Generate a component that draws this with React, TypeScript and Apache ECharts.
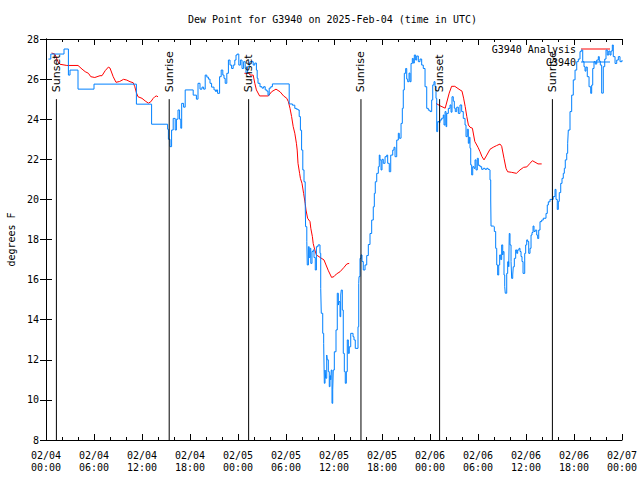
import React, { useEffect, useRef } from 'react';
import * as echarts from 'echarts';

const titleText = 'Dew Point for G3940 on 2025-Feb-04 (time in UTC)';
const yAxisName = 'degrees F';
const xTickLabels = [
  '02/04\n00:00', '02/04\n06:00', '02/04\n12:00', '02/04\n18:00',
  '02/05\n00:00', '02/05\n06:00', '02/05\n12:00', '02/05\n18:00',
  '02/06\n00:00', '02/06\n06:00', '02/06\n12:00', '02/06\n18:00',
  '02/07\n00:00',
];
const seriesNames = ['G3940 Analysis', 'G3940'];

// hours since 02/04 00:00 UTC
const eventTimes = [1.3, 15.4, 25.33, 39.37, 49.2, 63.3];
const eventLabels = ['Sunset', 'Sunrise', 'Sunset', 'Sunrise', 'Sunset', 'Sunrise'];
const eventTop = 25;

const analysisDay1 = [
  [0.7, 27.3], [1.1, 27.25], [1.5, 26.87], [1.75, 26.74], [2.6, 26.68], [4.0, 26.68], [4.5, 26.5],
  [4.9, 26.37], [5.3, 26.29], [5.6, 26.12], [6.1, 26.08], [6.75, 26.17], [7.0, 26.17], [7.4, 26.42],
  [7.8, 26.6], [8.0, 26.55], [8.4, 26.12], [8.75, 25.84], [9.2, 25.88], [9.7, 25.99], [10.1, 25.95],
  [10.5, 25.87], [10.9, 25.82], [11.1, 25.62], [11.3, 25.32], [11.5, 25.12], [12.0, 25.04], [12.4, 24.91],
  [12.8, 24.8], [13.1, 24.87], [13.4, 25.04], [13.6, 25.12], [13.8, 25.16], [14.0, 25.12],
];
const analysisDay2 = [
  [24.8, 26.29], [25.4, 26.29], [25.5, 26.2], [25.9, 26.2], [26.1, 25.79], [26.3, 25.46], [26.7, 25.16],
  [27.8, 25.16], [28.2, 25.37], [28.75, 25.5], [29.25, 25.37], [29.7, 25.16], [30.1, 25.04], [30.3, 24.87],
  [30.5, 24.54], [30.7, 24.13], [30.9, 23.63], [31.1, 23.3], [31.3, 22.8], [31.4, 22.46], [31.5, 21.8],
  [31.7, 21.3], [31.8, 21.05], [32.0, 20.8], [32.2, 20.3], [32.4, 19.8], [32.5, 19.47], [32.7, 19.06],
  [33.0, 18.89], [33.1, 18.56], [33.3, 18.14], [33.4, 17.8], [33.6, 17.48], [33.8, 17.23], [34.25, 17.11],
  [34.75, 16.98], [35.0, 16.73], [35.3, 16.44], [35.7, 16.11], [36.0, 16.15], [36.3, 16.28], [36.75, 16.39],
  [37.25, 16.61], [37.6, 16.78], [37.9, 16.81],
];
const analysisDay3 = [
  [48.75, 24.79], [49.25, 24.67], [49.9, 24.55], [50.4, 25.3], [50.7, 25.64], [51.1, 25.64], [51.75, 25.46],
  [52.0, 25.4], [52.2, 25.05], [52.4, 24.63], [52.6, 24.13], [52.8, 23.71], [53.0, 23.6], [53.3, 23.55],
  [53.6, 22.89], [54.0, 22.6], [54.25, 22.38], [54.5, 22.13], [54.75, 21.97], [55.1, 22.21], [55.5, 22.5],
  [55.9, 22.6], [56.3, 22.68], [56.75, 22.76], [56.96, 22.65], [57.25, 22.05], [57.5, 21.55], [57.7, 21.38],
  [58.2, 21.35], [58.8, 21.3], [59.25, 21.47], [59.7, 21.6], [60.1, 21.62], [60.5, 21.8], [60.8, 21.93],
  [61.25, 21.83], [61.5, 21.77], [61.96, 21.77],
];

const obsPartA = [
  [0.3, 27.0], [0.6, 27.25], [2.25, 27.5], [2.8, 26.2], [3.0, 26.45], [4.0, 25.5], [6.0, 25.75],
  [11.3, 24.75], [13.2, 23.75], [15.2, 23.5], [15.3, 23.0], [15.5, 22.63], [15.7, 23.46], [15.9, 24.04],
  [16.15, 23.46], [16.3, 24.0], [16.5, 24.46], [16.7, 24.0], [16.85, 23.55], [16.96, 24.79], [17.2, 24.6],
  [17.4, 25.46], [18.4, 25.2], [18.8, 25.0], [19.0, 25.79], [19.25, 25.5], [19.5, 25.6], [19.7, 25.5],
  [19.9, 26.2], [20.1, 26.1], [20.3, 26.0], [20.5, 25.79], [20.7, 25.6], [21.0, 25.46], [21.2, 25.38],
  [21.3, 25.46], [21.45, 25.29], [21.7, 26.12], [21.9, 26.45], [22.1, 26.2], [22.25, 26.04], [22.4, 25.79],
  [22.6, 26.29], [22.8, 26.95], [23.0, 26.7], [23.2, 26.53], [23.4, 26.7], [23.6, 26.95], [23.75, 27.2],
  [23.9, 27.25], [24.1, 26.7], [24.3, 26.95], [24.5, 26.53], [24.7, 26.87], [24.9, 26.53], [25.0, 26.3],
  [25.2, 26.62], [25.4, 26.8], [25.5, 26.87], [25.9, 26.7], [26.1, 26.8], [26.3, 26.45], [26.4, 26.04],
  [26.5, 25.79], [26.75, 25.62], [27.0, 25.55], [27.2, 25.62], [27.4, 25.46], [27.6, 25.4], [27.75, 25.2],
  [27.9, 25.55], [28.1, 25.62], [28.3, 25.76], [30.4, 24.76], [30.8, 24.7], [31.1, 24.54], [31.3, 24.5],
  [31.5, 24.46], [31.65, 24.13],
];
const obsPartB = [
  [31.8, 23.45], [31.95, 22.46], [32.1, 21.47], [32.25, 20.88], [32.4, 19.88], [32.45, 18.64], [32.6, 17.89],
  [32.66, 16.73], [32.8, 17.64], [32.9, 17.1], [33.0, 17.56], [33.1, 16.81], [33.25, 17.4], [33.4, 17.48],
  [33.5, 17.1], [33.66, 16.48], [33.8, 17.64], [34.0, 17.73], [34.25, 17.31], [34.34, 15.56], [34.41, 14.32],
  [34.59, 13.32], [34.71, 12.82], [34.79, 10.83], [34.88, 11.49], [34.96, 11.08], [35.09, 12.24], [35.16, 12.0],
  [35.29, 11.41], [35.41, 10.66], [35.5, 11.2], [35.59, 11.0], [35.66, 11.49], [35.75, 9.83], [35.84, 10.5],
  [35.91, 11.49], [36.04, 12.4], [36.25, 13.49], [36.41, 15.32], [36.54, 14.73], [36.62, 14.9], [36.75, 14.15],
  [36.84, 15.23], [36.91, 15.48], [37.04, 14.48], [37.16, 12.32], [37.29, 11.41], [37.41, 10.83], [37.54, 11.41],
  [37.66, 12.99], [37.79, 12.32], [37.91, 12.65], [38.09, 13.32], [38.38, 13.15], [38.5, 12.99], [38.66, 12.57],
  [39.0, 13.65], [39.09, 15.81], [39.13, 16.15], [39.25, 17.06], [39.38, 17.23], [39.5, 16.9], [39.66, 16.48],
  [39.88, 16.73], [40.09, 17.2], [40.29, 17.75], [40.5, 18.3], [40.71, 18.97], [40.91, 19.63], [41.04, 20.3],
  [41.16, 20.88], [41.34, 21.3], [41.54, 21.63], [41.66, 22.21], [41.75, 21.97], [41.88, 21.47], [42.0, 22.0],
  [42.16, 21.8], [42.38, 22.13], [42.59, 22.21], [42.71, 21.8], [42.91, 21.38], [43.09, 22.21], [43.34, 22.46],
  [43.5, 22.6], [43.63, 22.13], [43.84, 22.96], [44.04, 23.3], [44.16, 23.05], [44.38, 23.79], [44.54, 24.54],
  [44.66, 25.46], [44.79, 26.29], [44.96, 26.53], [45.09, 26.0], [45.21, 25.87], [45.38, 26.3], [45.5, 25.87],
  [45.63, 26.78], [45.79, 27.03], [45.91, 26.8], [46.04, 27.2], [46.21, 26.95], [46.34, 27.15], [46.54, 26.87],
  [46.75, 27.0], [46.96, 26.7], [47.16, 26.53], [47.38, 25.62], [47.59, 24.54], [47.79, 24.45], [48.0, 24.38],
  [48.21, 24.96], [48.34, 25.71], [48.5, 25.87], [48.63, 25.62], [48.75, 25.04], [48.84, 23.38], [48.96, 23.88],
  [49.13, 23.83], [49.25, 23.96], [49.46, 24.05], [49.66, 24.21], [49.75, 23.71], [49.88, 24.38], [50.0, 23.63],
  [50.09, 24.29], [50.29, 24.54], [50.5, 24.71], [50.63, 24.35], [50.75, 25.12], [50.91, 24.9], [51.04, 24.55],
  [51.16, 24.38], [51.34, 24.6], [51.54, 24.29], [51.75, 24.71], [51.96, 24.38], [52.16, 24.04], [52.38, 23.71],
  [52.5, 23.13], [52.66, 23.5], [52.79, 22.8], [52.91, 23.1], [53.0, 22.55], [53.09, 21.72], [53.21, 21.22],
  [53.34, 21.63], [53.5, 21.55], [53.63, 21.97], [53.75, 21.47], [53.91, 22.05], [54.04, 21.7], [54.25, 21.63],
  [54.46, 21.5], [54.66, 21.55], [54.88, 21.5], [55.09, 21.55], [55.25, 21.5], [55.41, 21.47], [55.5, 20.97],
  [55.59, 19.97], [55.63, 18.67], [55.91, 18.64], [56.04, 18.4], [56.21, 17.56], [56.34, 16.73], [56.46, 16.23],
  [56.59, 16.73], [56.71, 17.23], [56.84, 17.0], [56.96, 17.73], [57.09, 17.23], [57.16, 17.4], [57.25, 16.23],
  [57.34, 15.65], [57.41, 15.32], [57.59, 16.31], [57.71, 16.89], [57.84, 16.64], [57.91, 18.3], [58.0, 17.73],
  [58.13, 16.9], [58.21, 16.06], [58.34, 16.23], [58.41, 16.64], [58.54, 17.06], [58.71, 17.48], [58.84, 17.31],
  [58.96, 17.48], [59.13, 17.56], [59.25, 17.4], [59.38, 17.15], [59.5, 16.9], [59.63, 16.31], [59.84, 17.31],
  [59.96, 17.73], [60.09, 17.98], [60.21, 17.9], [60.34, 17.31], [60.5, 17.56], [60.63, 18.22], [60.75, 18.35],
  [60.88, 18.67], [61.0, 18.4], [61.16, 18.47], [61.34, 18.22], [61.46, 18.05], [61.59, 18.47], [61.75, 18.89],
  [61.96, 18.97], [62.16, 19.06], [62.5, 19.3], [62.66, 19.72], [62.79, 19.88], [63.0, 20.0], [63.41, 20.14],
  [63.63, 20.5], [63.75, 20.0], [63.91, 19.5], [64.04, 19.9], [64.16, 20.34], [64.34, 20.8], [64.5, 21.05],
  [64.66, 21.3], [64.79, 21.55], [64.91, 21.97], [65.09, 22.3], [65.21, 22.8], [65.29, 23.46], [65.5, 24.38],
  [65.71, 25.2], [65.91, 25.96], [66.13, 26.45], [66.34, 26.87], [66.54, 27.0], [66.75, 27.37], [66.91, 27.45],
  [67.09, 26.87], [67.25, 26.62], [67.38, 26.4], [67.5, 26.6], [67.66, 26.12], [67.88, 25.62], [68.09, 25.29],
  [68.21, 25.7], [68.34, 26.53], [68.5, 26.87], [68.66, 26.75], [68.84, 26.95], [69.04, 27.12], [69.16, 26.9],
  [69.29, 26.7], [69.46, 25.3], [69.66, 26.62], [69.84, 27.0], [70.0, 27.45], [70.16, 27.2], [70.34, 27.4],
  [70.5, 27.2], [70.63, 27.4], [70.79, 27.7], [70.91, 27.12], [71.13, 26.78], [71.34, 26.95], [71.54, 27.12],
  [71.75, 26.87], [72.0, 26.95],
];

const mono = '"DejaVu Sans Mono", monospace';

export default function App() {
  const ref = useRef<HTMLDivElement>(null);
  useEffect(() => {
    if (!ref.current) return;
    const chart = echarts.init(ref.current, null, { renderer: 'svg' });
    const analysis = [
      ...analysisDay1, [14.5, null],
      ...analysisDay2, [43, null],
      ...analysisDay3,
    ];
    const obs = [...obsPartA, ...obsPartB];
    const xCommon = {
      type: 'value',
      min: 0,
      max: 72,
      interval: 6,
      splitLine: { show: false },
      axisLine: { show: true, lineStyle: { color: '#000', width: 1 } },
      axisTick: { show: true, inside: true, length: 6, lineStyle: { color: '#000' } },
      minorTick: { show: true, splitNumber: 3, length: 3, lineStyle: { color: '#000' } },
      minorSplitLine: { show: false },
    };
    const yCommon = {
      type: 'value',
      min: 8,
      max: 28,
      interval: 2,
      splitLine: { show: false },
      axisLine: { show: true, lineStyle: { color: '#000', width: 1 } },
      axisTick: { show: true, inside: true, length: 6, lineStyle: { color: '#000' } },
    };
    const legendBase = {
      orient: 'vertical',
      align: 'right',
      right: 30,
      padding: 0,
      itemWidth: 29,
      itemHeight: 1,
      icon: 'rect',
      selectedMode: false,
      textStyle: { fontFamily: mono, fontSize: 10, color: '#000', padding: [0, 0, 0, 0] },
    };
    chart.setOption({
      animation: false,
      backgroundColor: '#fff',
      title: {
        text: titleText,
        left: 188,
        top: 14,
        padding: 0,
        textStyle: { fontFamily: mono, fontSize: 10, fontWeight: 'normal', color: '#000' },
      },
      legend: [
        { ...legendBase, top: 44, data: [seriesNames[0]] },
        { ...legendBase, top: 57, data: [seriesNames[1]] },
      ],
      grid: {
        left: 46,
        right: 18,
        top: 39,
        bottom: 40,
        containLabel: false,
        outerBoundsMode: 'none',
      },
      xAxis: [
        {
          ...xCommon,
          position: 'bottom',
          axisLabel: {
            show: true,
            fontFamily: mono,
            fontSize: 10,
            color: '#000',
            lineHeight: 12,
            margin: 9,
            formatter: (v: number) => xTickLabels[Math.round(v / 6)] ?? '',
          },
        },
        { ...xCommon, position: 'top', axisLabel: { show: false } },
      ],
      yAxis: [
        {
          ...yCommon,
          position: 'left',
          name: yAxisName,
          nameLocation: 'middle',
          nameGap: 30,
          nameTextStyle: { fontFamily: mono, fontSize: 10, color: '#000' },
          axisLabel: { show: true, fontFamily: mono, fontSize: 10, color: '#000', margin: 7 },
        },
        { ...yCommon, position: 'right', axisLabel: { show: false } },
      ],
      series: [
        {
          name: seriesNames[0],
          type: 'line',
          data: analysis,
          showSymbol: false,
          symbol: 'none',
          connectNulls: false,
          lineStyle: { color: '#ff0000', width: 1 },
          itemStyle: { color: '#ff0000' },
          z: 3,
        },
        {
          name: seriesNames[1],
          type: 'line',
          data: obs,
          step: 'end',
          showSymbol: false,
          symbol: 'none',
          lineStyle: { color: '#0080ff', width: 1 },
          itemStyle: { color: '#0080ff' },
          z: 4,
        },
        {
          type: 'custom',
          name: 'events',
          data: eventTimes.map((t) => [t, eventTop]),
          encode: { x: 0, y: 1 },
          z: 5,
          renderItem: (params: any, api: any) => {
            const top = api.coord([api.value(0), api.value(1)]);
            const bot = api.coord([api.value(0), 8]);
            return {
              type: 'group',
              children: [
                {
                  type: 'line',
                  shape: { x1: top[0], y1: top[1], x2: bot[0], y2: bot[1] },
                  style: { stroke: '#000', lineWidth: 1 },
                },
                {
                  type: 'text',
                  x: top[0],
                  y: top[1] - 7,
                  rotation: Math.PI / 2,
                  style: {
                    text: eventLabels[params.dataIndex],
                    fill: '#000',
                    fontFamily: '"DejaVu Sans", sans-serif',
                    fontSize: 11,
                    align: 'left',
                    textAlign: 'left',
                    verticalAlign: 'middle',
                    textVerticalAlign: 'middle',
                  },
                },
              ],
            };
          },
        },
      ],
    });
    return () => chart.dispose();
  }, []);
  return (
    <div
      ref={ref}
      style={{ position: 'fixed', left: 0, top: 0, width: 640, height: 480, background: '#fff' }}
    />
  );
}
